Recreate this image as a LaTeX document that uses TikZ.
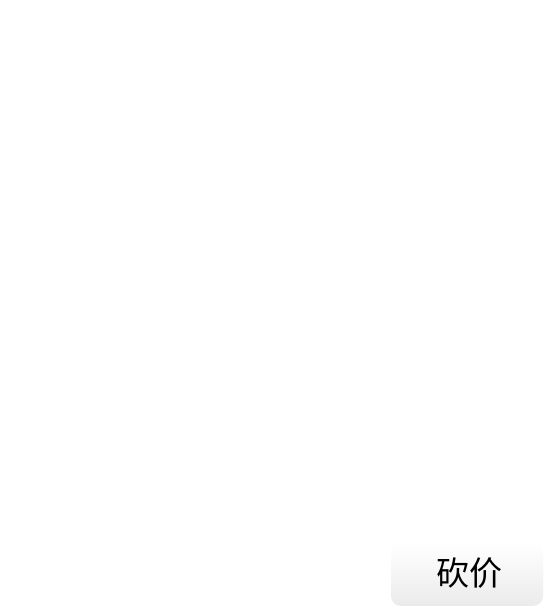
\documentclass[tikz,border=0pt]{standalone}
\usepackage{fontspec}
\newfontfamily\cjk{Noto Sans CJK SC}
\begin{document}
\begin{tikzpicture}[x=1pt,y=1pt]
\useasboundingbox (0,0) rectangle (544,608);
\fill[white] (0,0) rectangle (544,608);

\shade[top color=white,bottom color=black!8,rounded corners=10] (391,2) rectangle (543,65);
\node[text=black,font=\cjk\fontsize{33}{33}\selectfont] (kanjia) at (469.5,35) {砍价};

\end{tikzpicture}
\end{document}
